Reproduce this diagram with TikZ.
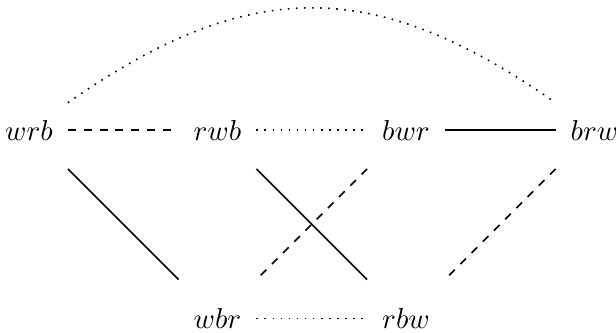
\documentclass[tikz,border=0pt]{standalone}
\begin{document}
\begin{tikzpicture}[x=2.3cm,y=2.3cm,line width=0.55pt,
  perm/.style={minimum size=0.93cm,inner sep=0pt},
  dashline/.style={dash pattern=on 2.75pt off 2.75pt},
  dotline/.style={dash pattern=on 0.55pt off 2.25pt}]
\useasboundingbox (-0.1538,-1.0716) rectangle (3.114,0.6897);
\node[perm] (wrb) at (0,0) {$wrb$};
\node[perm] (rwb) at (1,0) {$rwb$};
\node[perm] (bwr) at (2,0) {$bwr$};
\node[perm] (brw) at (3,0) {$brw$};
\node[perm] (wbr) at (1,-1) {$wbr$};
\node[perm] (rbw) at (2,-1) {$rbw$};

\draw[dashline] (wrb) -- (rwb);
\draw[dotline] (rwb) -- (bwr);
\draw (bwr) -- (brw);
\draw[dotline] (wrb) to[out=35,in=145,looseness=1.16] (brw);

\draw (wrb) -- (wbr);
\draw (rwb) -- (rbw);
\draw[dashline] (bwr) -- (wbr);
\draw[dashline] (brw) -- (rbw);
\draw[dotline] (wbr) -- (rbw);
\end{tikzpicture}
\end{document}
